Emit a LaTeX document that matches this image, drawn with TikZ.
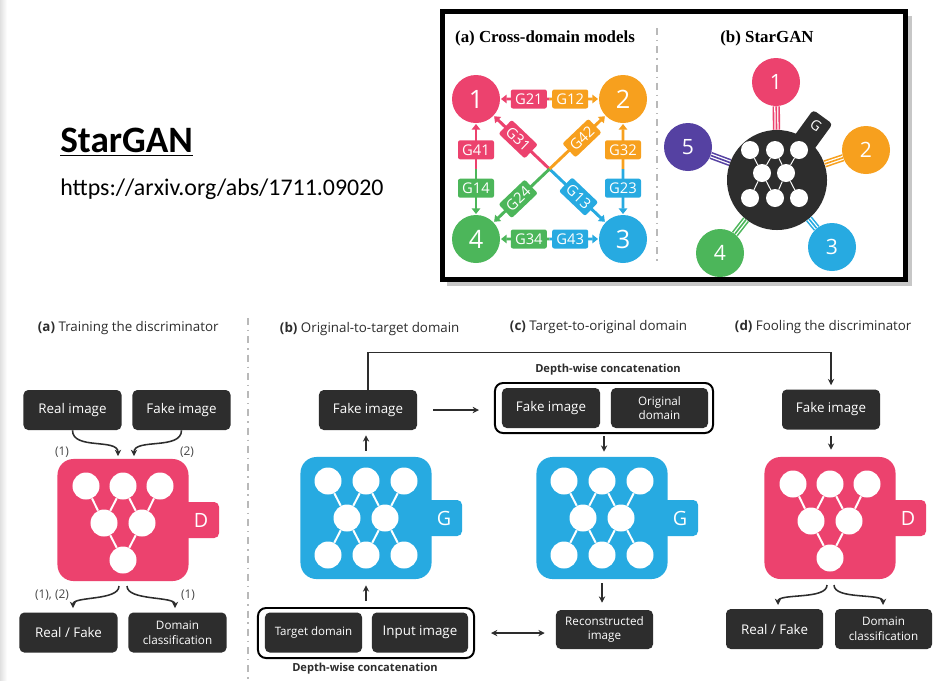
\documentclass[tikz,border=0pt]{standalone}
\usepackage{fontspec}
\setmainfont{Open Sans}
\newfontfamily\calfont{Carlito}
\newfontfamily\timesfont{Liberation Serif}
\usepackage{xcolor}
\usetikzlibrary{shapes,arrows,arrows.meta,positioning,calc}

\definecolor{boxdark}{RGB}{45,45,45}
\definecolor{dpink}{RGB}{236,66,110}
\definecolor{gblue}{RGB}{39,170,225}
\definecolor{dorange}{RGB}{247,160,30}
\definecolor{dgreen}{RGB}{76,182,90}
\definecolor{dpurple}{RGB}{85,65,162}
\definecolor{sepgray}{RGB}{185,185,185}
\definecolor{numgray}{RGB}{70,70,70}

\begin{document}
\begin{tikzpicture}[
    x=0.025cm, y=-0.025cm,
    imgbox/.style={
        rectangle,
        fill=boxdark,
        rounded corners=0.12cm,
        minimum width=2.45cm,
        minimum height=1cm,
        inner sep=0pt,
        text=white,
        align=center,
        font=\fontsize{9.5}{11}\selectfont
    },
    smallbox/.style={
        imgbox,
        font=\fontsize{8.3}{10.5}\selectfont
    },
    catbox/.style={
        rectangle,
        draw=black,
        line width=1.4pt,
        fill=white,
        rounded corners=0.2cm,
        minimum height=1.25cm,
        inner sep=0pt
    },
    block/.style={
        rectangle,
        rounded corners=0.4cm,
        minimum width=3.275cm,
        minimum height=3.05cm
    },
    tab/.style={
        rectangle,
        rounded corners=0.12cm,
        minimum width=0.9cm,
        minimum height=0.9cm,
        inner sep=0pt,
        text=white,
        font=\fontsize{14}{14}\selectfont
    },
    neuron/.style={circle, fill=white, minimum size=0.675cm, inner sep=0pt},
    wire/.style={white, line width=1.4pt},
    arrow/.style={
        ->,
        line width=1.1pt,
        draw=boxdark,
        >={Stealth[length=4.5pt,width=4.5pt]}
    },
    ptitle/.style={anchor=west, text=boxdark, font=\fontsize{9.5}{11}\selectfont},
    concat/.style={text=boxdark, font=\bfseries\fontsize{7.9}{9}\selectfont},
    numlbl/.style={text=numgray, font=\fontsize{8.5}{10}\selectfont},
    sep/.style={sepgray, line width=1pt, dash pattern=on 5pt off 3.5pt on 1pt off 3.5pt},
    dom/.style={
        circle,
        minimum size=1.2cm,
        inner sep=0pt,
        text=white,
        font=\fontsize{18}{18}\selectfont
    },
    star/.style={dom, font=\fontsize{15}{15}\selectfont},
    glbl/.style={
        rectangle,
        rounded corners=1.5pt,
        minimum width=0.9cm,
        minimum height=0.475cm,
        inner sep=0pt,
        text=white,
        font=\fontsize{10.5}{12}\selectfont
    },
    cross/.style={-{Triangle[length=4pt,width=6pt]}, line width=2.1pt, shorten >=0.5pt}
]

\fill[white] (0,0) rectangle (937,680);
\useasboundingbox (0,0) rectangle (937,680);
\shade[left color=black!12, right color=white] (0,0) rectangle (7,680);

% Title
\node[anchor=west, inner sep=0pt, font=\calfont\bfseries\fontsize{26.5}{30}\selectfont] (title) at (60,140) {StarGAN};
\draw[line width=0.9pt] ([yshift=-0.08cm]title.south west) -- ([yshift=-0.08cm]title.south east);
\node[anchor=west, inner sep=0pt, font=\calfont\fontsize{17}{20}\selectfont] (url) at (60,189) {https://arxiv.org/abs/1711.09020};

% Top frame
\fill[black!22] (447,16) rectangle (912,286);
\draw[line width=0.125cm, fill=white] (442.5,11.5) rectangle (905.5,279.5);
\draw[sep] (657,28) -- (657,265);
\node[font=\timesfont\bfseries\fontsize{12}{14}\selectfont] (ttlcross) at (545,38) {(a) Cross-domain models};
\node[font=\timesfont\bfseries\fontsize{12}{14}\selectfont] (ttlstar) at (767,38) {(b) StarGAN};

% Cross-domain models
\node[dom, fill=dpink] (n1) at (476,99) {1};
\node[dom, fill=dorange] (n2) at (623,99) {2};
\node[dom, fill=gblue] (n3) at (623,239) {3};
\node[dom, fill=dgreen] (n4) at (476,239) {4};
\coordinate (m12) at ($(n1)!0.5!(n2)$);
\coordinate (m14) at ($(n1)!0.5!(n4)$);
\coordinate (m23) at ($(n2)!0.5!(n3)$);
\coordinate (m43) at ($(n4)!0.5!(n3)$);
\coordinate (mx) at ($(n1)!0.5!(n3)$);

\draw[cross, dpink] (m12) -- node[glbl, fill=dpink, pos=0.42] (g21) {G21} (n1);
\draw[cross, dorange] (m12) -- node[glbl, fill=dorange, pos=0.42] (g12) {G12} (n2);
\draw[cross, dpink] (m14) -- node[glbl, fill=dpink, pos=0.42] (g41) {G41} (n1);
\draw[cross, dgreen] (m14) -- node[glbl, fill=dgreen, pos=0.42] (g14) {G14} (n4);
\draw[cross, dorange] (m23) -- node[glbl, fill=dorange, pos=0.42] (g32) {G32} (n2);
\draw[cross, gblue] (m23) -- node[glbl, fill=gblue, pos=0.42] (g23) {G23} (n3);
\draw[cross, dgreen] (m43) -- node[glbl, fill=dgreen, pos=0.42] (g34) {G34} (n4);
\draw[cross, gblue] (m43) -- node[glbl, fill=gblue, pos=0.42] (g43) {G43} (n3);
\draw[cross, dpink] (mx) -- node[glbl, fill=dpink, pos=0.56, sloped] (g31) {G31} (n1);
\draw[cross, gblue] (mx) -- node[glbl, fill=gblue, pos=0.52, sloped] (g13) {G13} (n3);
\draw[cross, dorange] (mx) -- node[glbl, fill=dorange, pos=0.58, sloped] (g42) {G42} (n2);
\draw[cross, dgreen] (mx) -- node[glbl, fill=dgreen, pos=0.56, sloped] (g24) {G24} (n4);

% StarGAN
\node[star, fill=dpink] (s1) at (776,82) {1};
\node[star, fill=dorange] (s2) at (866,150) {2};
\node[star, fill=gblue] (s3) at (832,247) {3};
\node[star, fill=dgreen] (s4) at (720,253) {4};
\node[star, fill=dpurple] (s5) at (688,147) {5};
\node[rectangle, fill=boxdark, rounded corners=2.5pt, minimum width=0.6cm, minimum height=0.95cm, rotate=-36] (stab) at (811.7,132.3) {};
\node[circle, fill=boxdark, minimum size=2.5cm, inner sep=0pt] (sc) at (777,180) {};
\node[text=white, rotate=-36, font=\fontsize{10}{10}\selectfont] (stabg) at (816,125) {G};
\foreach \s/\c in {s1/dpink, s2/dorange, s3/gblue, s4/dgreen, s5/dpurple}{
    \draw[\c, line width=5.2pt] (\s) -- (sc);
    \draw[white, line width=0.9pt, double=\c, double distance=1.15pt] (\s) -- (sc);
}
\begin{scope}[shift={(sc.center)}]
    \foreach \x/\y [count=\i] in {-27/-30,-2/-30,22/-30,-15/-7,9/-7,-27/18,-2/18,22/18}
        \node[circle, fill=white, minimum size=0.45cm, inner sep=0pt] (sn\i) at (\x,\y) {};
    \foreach \a/\b in {1/4,2/4,2/5,3/5,4/6,4/7,5/7,5/8}
        \draw[white, line width=0.7pt] (sn\a) -- (sn\b);
\end{scope}

% Panel titles
\draw[sep] (248,318) -- (248,680);
\node[ptitle] (ttla) at (33,328) {\textbf{(a)} Training the discriminator};
\node[ptitle] (ttlb) at (275,329) {\textbf{(b)} Original-to-target domain};
\node[ptitle] (ttlc) at (505,327) {\textbf{(c)} Target-to-original domain};
\node[ptitle] (ttld) at (730,327) {\textbf{(d)} Fooling the discriminator};

% Discriminators
\foreach \nm/\cx/\cy in {dA/123/520, dD/830/518}{
    \node[tab, fill=dpink] (\nm-tab) at (\cx+78,\cy) {D};
    \node[block, fill=dpink] (\nm) at (\cx,\cy) {};
    \begin{scope}[shift={(\cx,\cy)}]
        \foreach \x/\y [count=\i] in {-37/-34,0/-34,37/-34,-19/3,19/3,0/40}
            \node[neuron] (\nm-\i) at (\x,\y) {};
        \foreach \a/\b in {1/4,2/4,2/5,3/5,4/6,5/6}
            \draw[wire] (\nm-\a) -- (\nm-\b);
    \end{scope}
}

% Generators
\foreach \nm/\cx/\cy in {gB/366/518, gC/602/518}{
    \node[tab, fill=gblue] (\nm-tab) at (\cx+78,\cy) {G};
    \node[block, fill=gblue] (\nm) at (\cx,\cy) {};
    \begin{scope}[shift={(\cx,\cy)}]
        \foreach \x/\y [count=\i] in {-38/-37,0/-37,38/-37,-19/0,19/0,-38/37,0/37,38/37}
            \node[neuron] (\nm-\i) at (\x,\y) {};
        \foreach \a/\b in {1/4,2/4,2/5,3/5,4/6,4/7,5/7,5/8}
            \draw[wire] (\nm-\a) -- (\nm-\b);
    \end{scope}
}

% Panel (a) boxes
\node[imgbox] (realA) at (72.5,410) {Real image};
\node[imgbox] (fakeA) at (181.5,410) {Fake image};
\node[imgbox] (rfA) at (68.5,632.5) {Real / Fake};
\node[smallbox] (dcA) at (177.5,632.5) {Domain\\classification};

% Panel (b) boxes
\node[imgbox] (fakeB) at (368,410) {Fake image};
\node[catbox, minimum width=5.4cm] (catB) at (366,633) {};
\node[imgbox, minimum width=2.425cm, font=\fontsize{8.2}{10}\selectfont] (tdB) at (313.5,632.5) {Target domain};
\node[imgbox, minimum width=2.4cm] (inB) at (420,632.5) {Input image};
\node[concat] (dwB) at (365,669) {Depth-wise concatenation};

% Panel (c) boxes
\node[catbox, minimum width=5.45cm] (catC) at (604,408) {};
\node[imgbox] (fakeC) at (551,408) {Fake image};
\node[smallbox, minimum width=2.425cm] (origC) at (659.5,408) {Original\\domain};
\node[concat] (dwC) at (608,370) {Depth-wise concatenation};
\node[smallbox, minimum width=2.425cm, minimum height=0.975cm] (recC) at (604.5,629.5) {Reconstructed\\image};

% Panel (d) boxes
\node[imgbox] (fakeD) at (831,409.5) {Fake image};
\node[imgbox, minimum width=2.425cm] (rfD) at (774.5,629) {Real / Fake};
\node[smallbox, minimum width=2.425cm] (dcD) at (883.5,629) {Domain\\classification};

% Arrows (a)
\coordinate (inA1) at (118,456);
\coordinate (inA2) at (134,456);
\coordinate (outA1) at (119,586);
\coordinate (outA2) at (127,586);
\coordinate (tipA1) at (73,608);
\coordinate (tipA2) at (175,608);
\draw[arrow] (realA.south) .. controls +(0,20) and +(0,-18) .. (inA1);
\draw[arrow] (fakeA.south) .. controls +(0,20) and +(0,-18) .. (inA2);
\draw[arrow] (outA1) .. controls +(0,15) and +(0,-12) .. (tipA1);
\draw[arrow] (outA2) .. controls +(0,15) and +(0,-12) .. (tipA2);
\node[numlbl] (la1) at (62,452) {(1)};
\node[numlbl] (la2) at (187,452) {(2)};
\node[numlbl] (la3) at (52,595) {(1), (2)};
\node[numlbl] (la4) at (188,595) {(1)};

% Arrows (b)
\draw[arrow, shorten <=0.15cm, shorten >=0.125cm] (gB.north) -- (gB.north |- fakeB.south);
\draw[arrow, shorten <=0.15cm, shorten >=0.15cm] (catB.north -| gB.south) -- (gB.south);
\draw[arrow, shorten <=0.4cm, shorten >=0.375cm] (fakeB.east) -- (fakeB.east -| catC.west);
\draw[arrow, <->, shorten <=0.4cm, shorten >=0.275cm] (catB.east) -- (catB.east -| recC.west);
\draw[arrow, shorten >=0.1cm] (fakeB.north) -- ++(0,-37) -| (fakeD.north);

% Arrows (c)
\draw[arrow, shorten <=0.05cm, shorten >=0.125cm] (catC.south) -- (catC.south |- gC.north);
\draw[arrow, shorten <=0.1cm, shorten >=0.175cm] (gC.south) -- (gC.south |- recC.north);

% Arrows (d)
\coordinate (outD1) at (827,585);
\coordinate (outD2) at (834,585);
\coordinate (tipD1) at (778,605);
\coordinate (tipD2) at (883,605);
\draw[arrow, shorten <=0.15cm, shorten >=0.175cm] (fakeD.south) -- (fakeD.south |- dD.north);
\draw[arrow] (outD1) .. controls +(0,15) and +(0,-12) .. (tipD1);
\draw[arrow] (outD2) .. controls +(0,15) and +(0,-12) .. (tipD2);

\end{tikzpicture}
\end{document}
